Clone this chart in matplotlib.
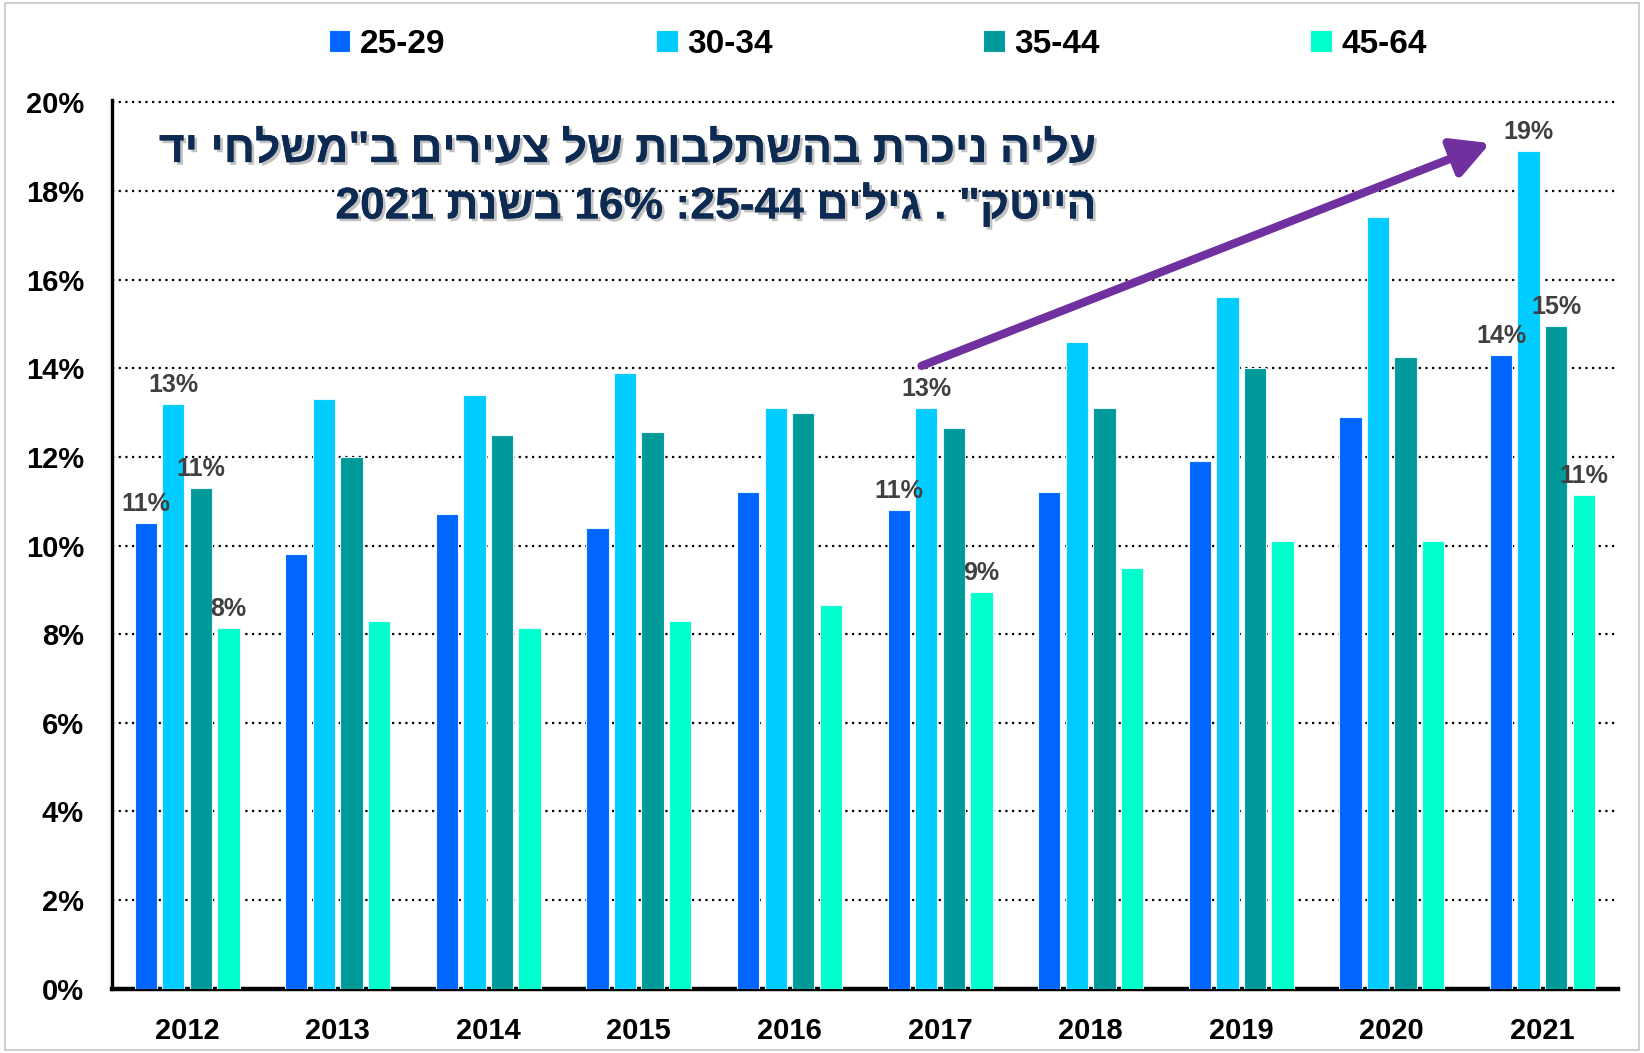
import re
import numpy as np
import matplotlib
matplotlib.use('Agg')
import matplotlib.pyplot as plt
import matplotlib.patheffects as pe
from matplotlib import font_manager
from matplotlib.patches import Rectangle

# data (percent)
years = ['2012', '2013', '2014', '2015', '2016', '2017', '2018', '2019', '2020', '2021']
age_groups = ['25-29', '30-34', '35-44', '45-64']
share_25_29 = [10.5, 9.8, 10.7, 10.4, 11.2, 10.8, 11.2, 11.9, 12.9, 14.3]
share_30_34 = [13.2, 13.3, 13.4, 13.9, 13.1, 13.1, 14.6, 15.6, 17.4, 18.9]
share_35_44 = [11.3, 12.0, 12.5, 12.55, 13.0, 12.65, 13.1, 14.0, 14.25, 14.95]
share_45_64 = [8.15, 8.3, 8.15, 8.3, 8.65, 8.95, 9.5, 10.1, 10.1, 11.15]
# which bars carry a value label (year -> series index)
labelled = {'2012': [0, 1, 2, 3], '2017': [0, 1, 3], '2021': [0, 1, 2, 3]}

title_1 = 'עליה ניכרת בהשתלבות של צעירים ב"משלחי יד'
title_2 = 'הייטק" . גילים 25-44: 16% בשנת 2021'

colors = ['#0066FF', '#00CCFF', '#009999', '#00FFCC']


def visual(s):
    # crude RTL ordering: flip the string, then flip number runs back
    r = s[::-1]
    return re.sub(r'[0-9%\-]+', lambda m: m.group(0)[::-1], r)


installed = {f.name for f in font_manager.fontManager.ttflist}
narrow = 'Liberation Sans Narrow' if 'Liberation Sans Narrow' in installed else 'Liberation Sans'
plt.rcParams['font.family'] = ['Liberation Sans', 'DejaVu Sans']

series = [share_25_29, share_30_34, share_35_44, share_45_64]

fig = plt.figure(figsize=(16.44, 10.53), dpi=100)
ax = fig.add_axes([0.068, 0.061, 0.916, 0.844])

x = np.arange(len(years))
step = 0.183
width = 0.148
bars = []
for i, (vals, name) in enumerate(zip(series, age_groups)):
    b = ax.bar(x + (i - 1.5) * step, vals, width, color=colors[i], label=name,
               edgecolor='#e6f7ff', linewidth=0.8, zorder=3)
    bars.append(b)

for yr, idxs in labelled.items():
    j = years.index(yr)
    for i in idxs:
        v = series[i][j]
        ax.annotate('%d%%' % int(v + 0.5), (x[j] + (i - 1.5) * step, v),
                    xytext=(0, 5), textcoords='offset points', ha='center', va='bottom',
                    fontsize=18, fontweight='bold', color='#404040', zorder=5)

ax.set_xlim(-0.5, len(years) - 0.5)
ax.set_ylim(0, 20.05)
ax.set_yticks(np.arange(0, 21, 2))
ax.set_yticklabels(['%d%%' % t for t in range(0, 21, 2)], fontsize=21,
                   fontweight='bold', family=narrow)
ax.set_xticks(x)
ax.set_xticklabels(years, fontsize=21, fontweight='bold', family=narrow)
ax.tick_params(axis='y', length=0, pad=20)
ax.tick_params(axis='x', length=0, pad=20)

ax.yaxis.grid(True, linestyle=(0, (1, 2)), color='black', linewidth=1.6, zorder=1)
ax.set_axisbelow(True)
for s in ['top', 'right']:
    ax.spines[s].set_visible(False)
ax.spines['left'].set_linewidth(2.4)
ax.spines['bottom'].set_linewidth(3.2)

# trend arrow
ax.annotate('', xy=(8.67, 19.1), xytext=(4.86, 14.03),
            arrowprops=dict(arrowstyle='-|>,head_length=0.75,head_width=0.4',
                            color='#7030A0', lw=6, mutation_scale=30), zorder=6)

shadow = [pe.withSimplePatchShadow(offset=(2, -2), shadow_rgbFace='#777777', alpha=0.45),
          pe.Normal()]
for txt, yy in [(title_1, 0.857), (title_2, 0.805)]:
    fig.text(0.667, yy, visual(txt), ha='right', va='center', fontsize=32,
             fontweight='bold', color='#0D2B52', path_effects=shadow)

leg = fig.legend(handles=bars, labels=age_groups, loc='center', bbox_to_anchor=(0.534, 0.958),
                 ncol=4, frameon=False, handlelength=0.65, handleheight=0.65,
                 handletextpad=0.3, columnspacing=6.3,
                 prop={'family': narrow, 'weight': 'bold', 'size': 24})

fig.patches.append(Rectangle((0.003, 0.003), 0.994, 0.994, transform=fig.transFigure,
                             fill=False, edgecolor='#d0d0d0', linewidth=1.5))

fig.savefig('out.png', dpi=100)
